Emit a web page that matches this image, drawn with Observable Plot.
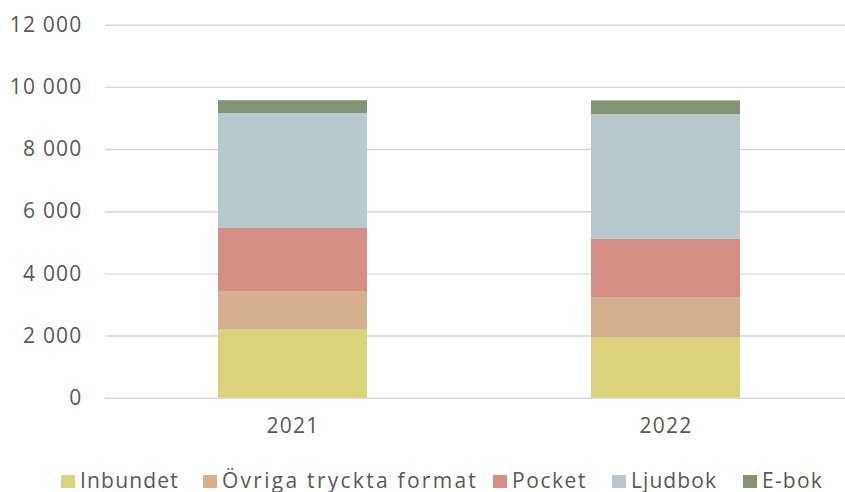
<!DOCTYPE html>
<html>
<head>
<meta charset="utf-8">
<script src="https://cdn.jsdelivr.net/npm/d3@7"></script>
<script src="https://cdn.jsdelivr.net/npm/@observablehq/plot@0.6"></script>
<style>
  html, body { margin: 0; padding: 0; background: #fff; overflow: hidden; }
  body { width: 845px; height: 492px; position: relative; font-family: "Open Sans", sans-serif; }
  #chart svg { display: block; max-width: none !important; }
  #legend { position: absolute; left: 0; top: 470px; width: 845px; height: 22px; font-size: 21px; color: #595959; line-height: 22px; }
  #legend .sw { position: absolute; width: 14px; height: 13px; top: 5px; }
  #legend .tx { position: absolute; top: -1px; white-space: nowrap; }
</style>
</head>
<body>
<div id="chart"></div>
<div id="legend"></div>
<script>
const years = ["2021", "2022"];
const series = ["Inbundet", "Övriga tryckta format", "Pocket", "Ljudbok", "E-bok"];
const inbundet = [2190, 1930];
const ovriga = [1240, 1310];
const pocket = [2030, 1875];
const ljudbok = [3700, 4010];
const ebok = [410, 440];
const colors = ["#dbd27c", "#d4b08f", "#d48e84", "#b9c8cd", "#849373"];
const yTicks = [0, 2000, 4000, 6000, 8000, 10000, 12000];

const valuesBySeries = [inbundet, ovriga, pocket, ljudbok, ebok];
const data = [];
series.forEach((s, i) => {
  years.forEach((y, j) => data.push({ year: y, series: s, value: valuesBySeries[i][j] }));
});

const fmt = d => d3.format(",")(d).replace(/,/g, " ");

const chart = Plot.plot({
  width: 845,
  height: 450,
  marginLeft: 105,
  marginRight: 0,
  marginTop: 24.7,
  marginBottom: 52.3,
  style: { fontFamily: "Open Sans, sans-serif", fontSize: "21px", color: "#595959", letterSpacing: "1.2px", overflow: "visible" },
  x: { type: "band", domain: years, range: [105.3, 853], paddingInner: 0.6, paddingOuter: 0.3, label: null },
  y: { domain: [0, 12000], label: null },
  color: { domain: series, range: colors },
  marks: [
    Plot.ruleY(yTicks, { stroke: "#d9d9d9", strokeWidth: 1.4 }),
    Plot.barY(data, { x: "year", y: "value", fill: "series" }),
    Plot.axisY(yTicks, { tickSize: 0, tickPadding: 23, tickFormat: fmt, fill: "#595959" }),
    Plot.axisX({ tickSize: 0, tickPadding: 20, fill: "#595959" })
  ]
});
document.getElementById("chart").appendChild(chart);

// Legend (HTML, below the SVG), with label widths fitted to the reference layout
const legend = document.getElementById("legend");
const swatchX = [61, 203, 493, 612, 743];
const textW = [99, 256, 75, 86, 61];
series.forEach((s, i) => {
  const sw = document.createElement("span");
  sw.className = "sw";
  sw.style.left = swatchX[i] + "px";
  sw.style.background = colors[i];
  legend.appendChild(sw);
  const t = document.createElement("span");
  t.className = "tx";
  t.textContent = s;
  t.style.left = (swatchX[i] + 19) + "px";
  legend.appendChild(t);
  const w = t.getBoundingClientRect().width;
  const ls = (textW[i] - w) / s.length;
  t.style.letterSpacing = ls.toFixed(2) + "px";
});
</script>
</body>
</html>
